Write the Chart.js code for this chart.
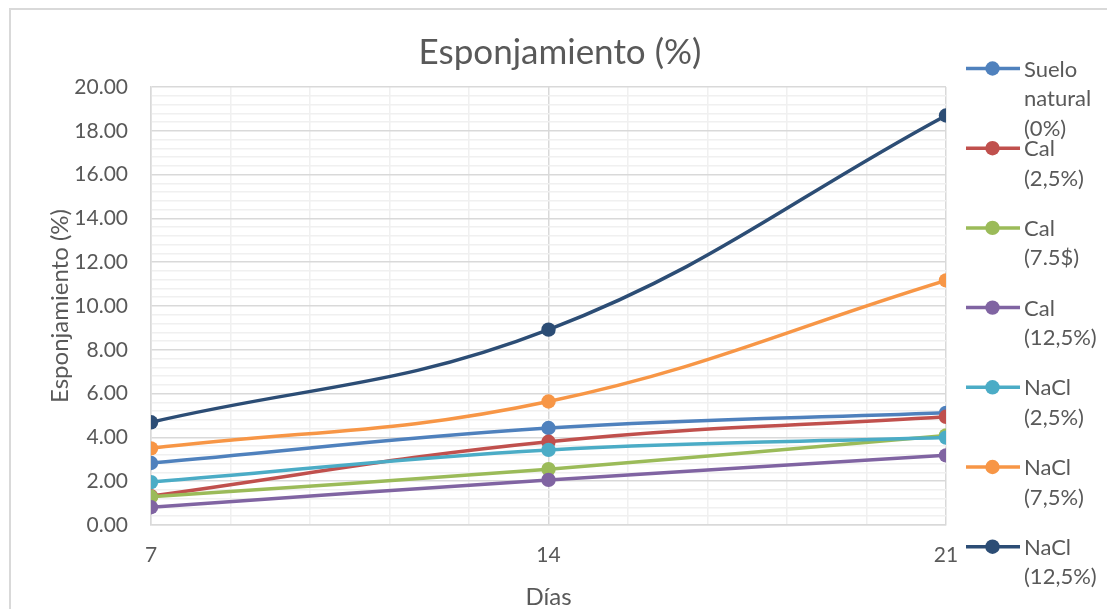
<!DOCTYPE html>
<html>
<head>
<meta charset="utf-8">
<script src="https://cdn.jsdelivr.net/npm/chart.js@4/dist/chart.umd.min.js"></script>
<style>
  html, body { margin: 0; padding: 0; background: #ffffff; }
  #wrap { width: 1107px; height: 609px; position: relative; }
</style>
</head>
<body>
<div id="wrap"><canvas id="chart" width="1107" height="609"></canvas></div>
<script>
// Days of measurement
const dias = [7, 14, 21];

// Swell (%) per treatment
const sueloNatural = [2.83, 4.43, 5.12];
const cal25 = [1.32, 3.80, 4.94];
const cal75 = [1.29, 2.55, 4.09];
const cal125 = [0.81, 2.06, 3.18];
const nacl25 = [1.96, 3.43, 3.99];
const nacl75 = [3.50, 5.64, 11.17];
const nacl125 = [4.69, 8.92, 18.70];

// Series names (legend wraps them over several lines)
const seriesNames = [
  ['Suelo', 'natural', '(0%)'],
  ['Cal', '(2,5%)'],
  ['Cal', '(7.5$)'],
  ['Cal', '(12,5%)'],
  ['NaCl', '(2,5%)'],
  ['NaCl', '(7,5%)'],
  ['NaCl', '(12,5%)']
];
const seriesValues = [sueloNatural, cal25, cal75, cal125, nacl25, nacl75, nacl125];
const seriesColors = ['#4F81BD', '#C0504D', '#9BBB59', '#8064A2', '#4BACC6', '#F79646', '#2C4D75'];

const chartTitle = 'Esponjamiento (%)';
const yTitle = 'Esponjamiento (%)';
const xTitle = 'Días';

const FONT = 'Lato, "Open Sans", sans-serif';
const TEXT = '#595959';

const datasets = seriesValues.map((vals, i) => ({
  label: seriesNames[i].join(' '),
  data: vals.map((v, k) => ({ x: dias[k], y: v })),
  borderColor: seriesColors[i],
  backgroundColor: seriesColors[i],
  borderWidth: 3.5,
  pointRadius: 7.2,
  pointHoverRadius: 7.2,
  pointBorderWidth: 0,
  tension: 0.4,
  order: seriesValues.length - i
}));

function isMultiple(v, step) {
  const r = v / step;
  return Math.abs(r - Math.round(r)) < 1e-6;
}

// White page, outer frame, chart title and the wrapped legend
const decorations = {
  id: 'decorations',
  beforeDraw(chart) {
    const ctx = chart.ctx;
    ctx.save();
    ctx.fillStyle = '#ffffff';
    ctx.fillRect(0, 0, chart.width, chart.height);
    ctx.strokeStyle = '#d9d9d9';
    ctx.lineWidth = 2;
    ctx.strokeRect(10, 9, chart.width + 20, chart.height + 20);
    ctx.restore();
  },
  afterDraw(chart) {
    const ctx = chart.ctx;
    ctx.save();
    ctx.fillStyle = TEXT;
    ctx.font = '35px ' + FONT;
    ctx.textAlign = 'center';
    ctx.textBaseline = 'middle';
    ctx.fillText(chartTitle, 560, 53);

    ctx.textAlign = 'left';
    ctx.font = '22px ' + FONT;
    chart.data.datasets.forEach((ds, i) => {
      const y = 68.5 + i * 79.7;
      ctx.strokeStyle = ds.borderColor;
      ctx.lineWidth = 3.5;
      ctx.beginPath();
      ctx.moveTo(966, y);
      ctx.lineTo(1020, y);
      ctx.stroke();
      ctx.fillStyle = ds.backgroundColor;
      ctx.beginPath();
      ctx.arc(992.5, y, 7.2, 0, Math.PI * 2);
      ctx.fill();
      ctx.fillStyle = TEXT;
      seriesNames[i].forEach((line, k) => {
        ctx.fillText(line, 1024, y + 1 + k * 29.5);
      });
    });
    ctx.restore();
  }
};

new Chart(document.getElementById('chart'), {
  type: 'line',
  data: { datasets },
  plugins: [decorations],
  options: {
    responsive: false,
    animation: false,
    events: [],
    layout: { padding: { top: 87, right: 161, left: 0, bottom: 0 } },
    plugins: {
      legend: { display: false },
      title: { display: false },
      tooltip: { enabled: false }
    },
    scales: {
      x: {
        type: 'linear',
        min: 7,
        max: 21,
        afterFit(scale) { scale.height = 84; },
        ticks: {
          stepSize: 1.4,
          color: TEXT,
          font: { family: FONT, size: 21 },
          padding: 18,
          maxRotation: 0,
          autoSkip: false,
          callback: (v) => isMultiple(v, 7) ? String(Math.round(v)) : ''
        },
        grid: {
          drawTicks: false,
          color: (c) => isMultiple(c.tick.value, 7) ? '#d9d9d9' : '#f0f0f0',
          lineWidth: 1.5
        },
        border: { display: true, color: '#d9d9d9', width: 1.5 },
        title: {
          display: true,
          text: xTitle,
          color: TEXT,
          font: { family: FONT, size: 24, lineHeight: 1 },
          padding: { top: 0, bottom: 0 }
        }
      },
      y: {
        min: 0,
        max: 20,
        afterFit(scale) { scale.width = 151; },
        ticks: {
          stepSize: 0.4,
          color: TEXT,
          font: { family: FONT, size: 21 },
          padding: 23,
          autoSkip: false,
          callback: (v) => isMultiple(v, 2) ? Number(v).toFixed(2) : ''
        },
        grid: {
          drawTicks: false,
          color: (c) => isMultiple(c.tick.value, 2) ? '#d9d9d9' : '#f0f0f0',
          lineWidth: 1.5
        },
        border: { display: true, color: '#d9d9d9', width: 1.5 },
        title: {
          display: true,
          text: yTitle,
          color: TEXT,
          font: { family: FONT, size: 24, lineHeight: 1 },
          padding: { top: 48, bottom: 0 }
        }
      }
    }
  }
});
</script>
</body>
</html>
